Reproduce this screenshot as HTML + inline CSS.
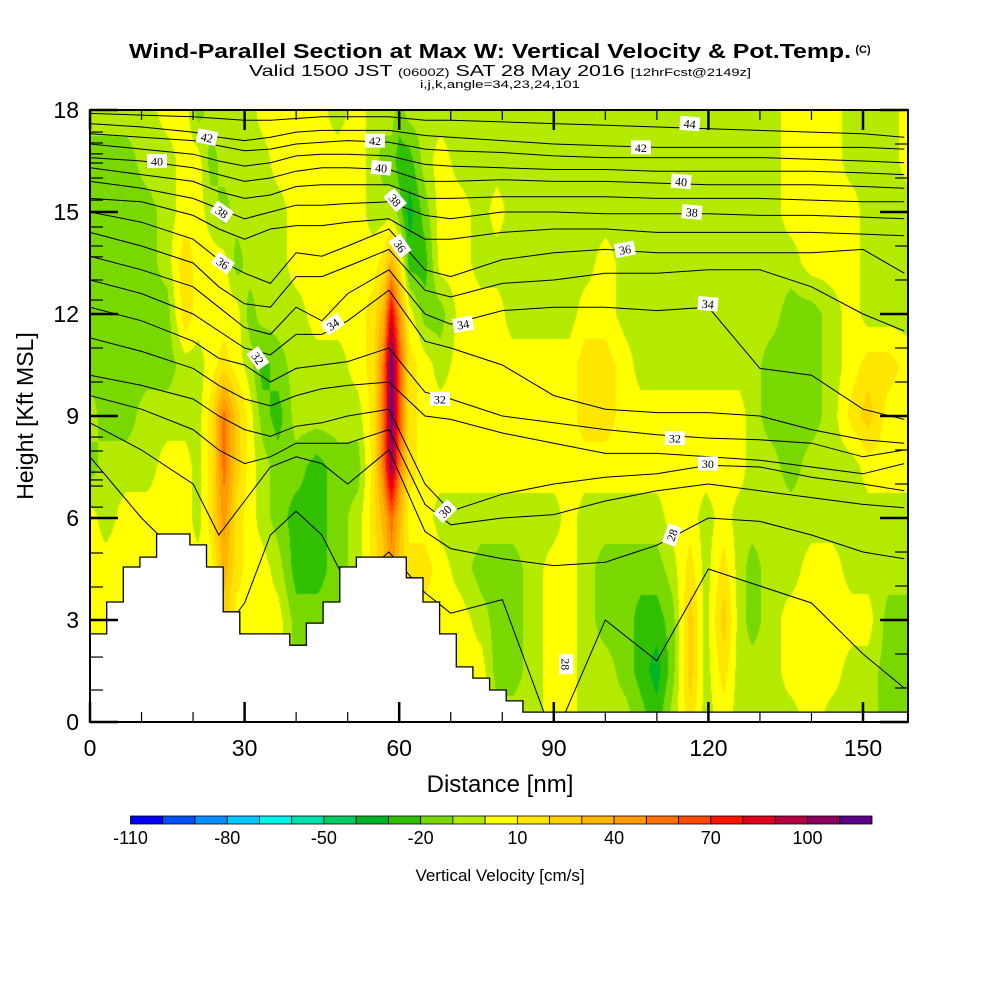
<!DOCTYPE html>
<html><head><meta charset="utf-8"><style>
html,body{margin:0;padding:0;background:#fff;}
#wrap{position:relative;width:1000px;height:1000px;overflow:hidden;font-family:"Liberation Sans",Arial,sans-serif;}
#field{position:absolute;left:90px;top:110px;}
#ov{position:absolute;left:0;top:0;}
</style></head><body>
<div id="wrap">
<canvas id="field" width="818" height="612"></canvas>
<svg id="ov" width="1000" height="1000" xmlns="http://www.w3.org/2000/svg">
<text x="490" y="58" text-anchor="middle" font-size="20" font-weight="bold" textLength="722" lengthAdjust="spacingAndGlyphs">Wind-Parallel Section at Max W: Vertical Velocity &amp; Pot.Temp.</text>
<text x="863" y="53" text-anchor="middle" font-size="11" font-weight="bold">(C)</text>
<text x="500" y="76" text-anchor="middle" font-size="16" textLength="502" lengthAdjust="spacingAndGlyphs">Valid 1500 JST <tspan font-size="11">(0600Z)</tspan> SAT 28 May 2016 <tspan font-size="11">[12hrFcst@2149z]</tspan></text>
<text x="500" y="88" text-anchor="middle" font-size="11" textLength="160" lengthAdjust="spacingAndGlyphs">i,j,k,angle=34,23,24,101</text>
<g id="contours"></g>
<g id="terrain"></g>
<g id="clabels"></g>
<g id="axes"></g>
<g id="cbar"></g>
<text x="500" y="792" text-anchor="middle" font-size="24">Distance [nm]</text>
<text transform="translate(33,416) rotate(-90)" text-anchor="middle" font-size="23">Height [Kft MSL]</text>
<text x="500" y="881" text-anchor="middle" font-size="17">Vertical Velocity [cm/s]</text>
</svg>
</div>
<script>
// ---- data ----
const distNodes = [0,3,7,11,15,18.5,21,23.5,26,28.5,31,33.5,36.5,40,44,48,52,55,57,58.5,60,62,65,68,72,76,79,82,86,90,93,96,100,104,107,110,113,116.5,119.5,123,126,128.5,132,136,140,144,148,151,155,159];
const heightNodes = [18,16.5,15,13.5,12,10.5,9,7.5,6,4.5,3,1.5,0];
const wCols = [
[-5,-15,-15,-15,-15,-15,-5,-15,5,5,5,5,5],
[-5,-15,-15,-15,-15,-15,-15,-5,-5,5,5,5,5],
[-5,-15,-15,-15,-15,-15,-15,-5,5,5,5,5,5],
[-5,-5,-15,-15,-15,-15,-5,-5,5,5,5,5,5],
[5,-5,-5,-5,-15,-15,-5,5,5,5,5,5,5],
[5,5,5,18,18,-5,-5,5,5,5,5,5,5],
[-15,5,5,5,5,-5,-5,-5,-5,5,5,5,5],
[-5,-15,-5,5,5,5,15,15,15,5,5,5,5],
[-5,-5,-15,5,5,15,55,55,45,35,25,25,25],
[-5,-5,-5,-15,5,5,25,25,15,15,5,5,5],
[-5,-5,-5,-5,-15,-5,5,5,5,5,5,5,5],
[5,-5,-5,-5,-5,-25,-15,-5,-5,5,5,5,5],
[5,5,-5,-5,-5,-15,-25,-15,-15,-5,5,5,5],
[5,5,5,5,-5,-5,-5,-15,-25,-25,-15,-15,-15],
[5,5,5,5,5,-5,-5,-25,-25,-25,-15,-15,-15],
[-5,5,5,5,5,-5,-5,-15,-15,-15,-15,-15,-15],
[5,5,5,5,5,5,-5,-15,-5,-5,-5,-5,-5],
[-5,-5,-5,5,15,15,15,15,15,15,15,15,15],
[-5,-15,-5,15,35,55,55,55,35,25,25,25,25],
[-5,-15,-5,35,85,115,115,105,55,45,45,45,45],
[-15,-25,-15,15,45,65,65,55,35,25,25,25,25],
[-5,-25,-35,-25,5,15,15,15,5,15,15,15,15],
[-5,-5,-15,-25,-15,5,5,5,5,15,5,5,5],
[-5,5,5,5,-15,-5,5,5,-5,5,5,5,5],
[-5,-5,5,5,5,5,5,5,-5,-5,5,5,5],
[-5,-5,-5,-5,5,5,5,5,-5,-15,-5,5,5],
[-5,-5,5,-5,5,5,5,5,-5,-15,-15,-15,-5],
[-5,-5,-5,-5,-5,5,5,5,-5,-15,-15,-15,-5],
[-5,-5,-5,-5,-5,5,5,5,-5,-5,-5,-5,-5],
[-5,-5,-5,-5,-5,5,5,5,-5,5,5,5,5],
[-5,-5,-5,-5,-5,5,5,5,5,5,5,5,5],
[-5,-5,-5,-5,5,15,15,5,-5,-5,-5,-5,-5],
[-5,-5,-5,5,5,15,15,5,-5,-15,-15,-5,-5],
[-5,-5,-5,-5,-5,5,5,5,-5,-15,-15,-15,-5],
[-5,-5,-5,-5,-5,-5,5,5,-5,-15,-25,-25,-15],
[-5,-5,-5,-5,-5,-5,5,5,-5,-15,-25,-35,-25],
[-5,-5,-5,-5,-5,-5,5,5,5,-5,-15,-15,-5],
[-5,-5,-5,-5,-5,-5,5,5,5,15,25,25,15],
[-5,-5,-5,-5,-5,-5,5,5,-5,-5,-5,-5,-5],
[-5,-5,-5,-5,-5,-5,5,5,5,15,25,15,5],
[-5,-5,-5,-5,-5,-5,5,5,-5,-5,-5,-5,-5],
[-5,-5,-5,-5,-5,-5,-5,-5,-5,-15,-15,-5,-5],
[-5,-5,-5,-5,-5,-15,-15,-5,-5,-5,-5,-5,-5],
[5,5,5,-5,-15,-15,-15,-15,-5,-5,5,5,-5],
[5,5,5,5,-15,-15,-15,-5,-5,5,5,5,5],
[5,5,5,5,-5,-5,-5,-5,-5,5,5,5,-5],
[-5,-5,5,5,5,5,15,-5,-5,-5,5,-5,-5],
[-5,-5,-5,-5,-5,15,25,5,-5,-5,5,-5,-5],
[-5,-5,-5,-5,-5,15,5,5,-5,-5,-15,-15,-15],
[5,5,-5,-5,-5,5,5,5,-5,-5,-15,-15,-15]
];
const colorLevels = ["#0000ff","#0050ff","#0090ff","#00c8ff","#00f4e8","#00e0a8","#00cc64","#00b428","#30c000","#78d800","#b4ea00","#ffff00","#ffe600","#ffd000","#ffb400","#ff9a00","#ff7000","#ff4800","#ff1400","#e0001c","#b40040","#8c0060","#5c0088"];
const colorbarTicks = [-110,-80,-50,-20,10,40,70,100];
const thetaDist = [0,10,20,25,30,35,40,45,50,58,65,70,80,90,100,110,120,130,140,150,158];
const thetaLevels = [27,28,29,30,31,32,33,34,35,36,37,38,39,40,41,42,43,44];
const thetaHeights = [
[7.8,6.0,4.5,2.5,3.5,5.5,6.2,5.5,4.0,5.0,3.8,3.2,3.6,-0.5,3.0,1.8,4.5,4.0,3.5,2.0,1.0],
[8.8,8.0,7.0,5.5,6.5,7.5,7.8,7.6,7.0,8.0,5.6,5.1,4.8,4.6,4.7,5.2,6.0,5.9,5.5,5.0,4.8],
[9.6,9.2,8.6,8.0,7.6,7.8,8.2,8.2,8.2,8.6,6.4,5.8,6.0,6.1,6.5,6.8,7.0,6.8,6.6,6.4,6.3],
[10.2,9.9,9.5,9.0,8.6,8.4,8.7,8.8,9.0,9.2,7.0,6.2,6.7,7.0,7.2,7.3,7.55,7.5,7.2,7.0,6.8],
[11.3,10.9,10.4,9.9,9.5,9.3,9.6,9.8,9.9,10.0,9.0,8.9,8.5,8.2,7.9,7.9,7.8,7.7,7.5,7.3,7.6],
[12.2,11.8,11.2,10.7,10.5,10.0,10.4,10.5,10.6,11.0,9.7,9.5,9.0,8.8,8.6,8.45,8.35,8.3,8.2,7.8,8.0],
[13.0,12.6,12.0,11.5,11.0,10.8,11.4,11.4,11.8,12.7,11.2,11.0,10.5,9.6,9.2,9.1,9.1,9.0,8.6,8.3,8.2],
[13.7,13.3,12.8,12.2,11.6,11.4,12.2,11.8,12.6,13.3,12.0,11.7,12.1,12.2,12.2,12.1,12.2,10.4,10.2,9.2,8.9],
[14.4,14.0,13.5,12.8,12.3,12.2,13.1,13.1,13.4,13.9,12.7,12.5,12.9,13.0,13.2,13.2,13.3,13.3,12.8,12.0,11.5],
[15.0,14.7,14.2,13.6,13.2,12.9,13.8,13.7,14.0,14.5,13.3,13.1,13.6,13.8,13.9,13.8,13.8,13.8,13.8,13.9,13.2],
[15.4,15.3,14.9,14.5,14.2,14.5,14.6,14.6,14.7,14.8,14.2,14.2,14.4,14.5,14.5,14.4,14.4,14.4,14.4,14.35,14.3],
[15.9,15.7,15.4,15.1,14.8,15.0,15.2,15.2,15.25,15.3,14.9,14.8,15.0,15.0,14.95,14.95,14.95,14.9,14.9,14.85,14.8],
[16.3,16.1,15.9,15.6,15.4,15.5,15.75,15.8,15.8,15.8,15.4,15.4,15.45,15.45,15.45,15.4,15.4,15.4,15.35,15.3,15.3],
[16.6,16.5,16.3,16.1,15.9,16.0,16.2,16.3,16.3,16.25,15.9,15.9,15.95,15.9,15.9,15.85,15.8,15.8,15.8,15.75,15.7],
[17.0,16.85,16.7,16.5,16.35,16.45,16.65,16.7,16.7,16.65,16.4,16.35,16.3,16.25,16.25,16.2,16.2,16.2,16.2,16.15,16.1],
[17.3,17.2,17.1,16.95,16.8,16.85,17.0,17.05,17.1,17.05,16.85,16.8,16.75,16.65,16.6,16.6,16.6,16.6,16.55,16.5,16.45],
[17.6,17.5,17.35,17.2,17.1,17.2,17.35,17.4,17.4,17.4,17.25,17.2,17.1,17.0,16.95,16.9,16.9,16.9,16.9,16.9,16.85],
[17.9,17.85,17.8,17.75,17.7,17.7,17.75,17.8,17.8,17.8,17.7,17.7,17.65,17.6,17.55,17.5,17.45,17.4,17.35,17.3,17.2]
];
const labelText = ["42","40","38","36","34","32","42","40","38","36","34","32","30","44","42","40","38","36","34","32","30","28","28"];
const labelDist = [22.7,13.0,25.6,25.8,47.1,32.6,55.3,56.5,59.2,60.2,72.4,67.9,68.9,116.4,106.9,114.7,116.8,103.8,119.9,113.5,119.9,112.9,92.4];
const labelHeight = [17.2,16.5,15.0,13.5,11.7,10.7,17.1,16.3,15.35,14.0,11.7,9.5,6.2,17.6,16.9,15.9,15.0,13.9,12.3,8.35,7.6,5.5,1.7];
const labelAngle = [12,0,35,35,-35,55,0,5,50,55,-10,0,-45,5,0,5,5,-10,5,0,0,-70,90];
const terrainSteps = [2.59,3.53,4.56,4.85,5.53,5.53,5.21,4.56,3.24,2.59,2.59,2.59,2.26,2.91,3.53,4.56,4.85,4.85,4.85,4.24,3.53,2.59,1.62,1.29,0.94,0.62];
const terrainFloor = 0.29;
const modelLevelTicks = [17.35,17.03,16.71,16.44,16.0,15.35,14.56,14.0,13.68,13.0,12.41,11.0,10.0,8.38,7.97,7.35,7.12,6.94,6.32,4.97,3.97,1.91,0.94];
const xTicks = [0,30,60,90,120,150];
const yTicks = [0,3,6,9,12,15,18];

// ---- axes ----
const PX0=90, PX1=908, PY0=722, PY1=110;
const NM_PX = (863-90)/150, KFT_PX = (722-110)/18;
const sx = nm => PX0 + nm*NM_PX;
const sy = k => PY0 - k*KFT_PX;
const stepNm = 16.65/NM_PX;
const NS='http://www.w3.org/2000/svg';
function mk(tag, attrs, parent){const e=document.createElementNS(NS,tag);for(const k in attrs)e.setAttribute(k,attrs[k]);parent.appendChild(e);return e;}

// ---- field ----
(function(){
  const cv=document.getElementById('field'), ctx=cv.getContext('2d');
  const W=cv.width,H=cv.height, img=ctx.createImageData(W,H);
  const rgb=colorLevels.map(c=>[parseInt(c.substr(1,2),16),parseInt(c.substr(3,2),16),parseInt(c.substr(5,2),16)]);
  for(let px=0;px<W;px++){
    const nm=(px+0.5)/NM_PX;
    let i=0; while(i<distNodes.length-2 && nm>distNodes[i+1]) i++;
    let tx=(nm-distNodes[i])/(distNodes[i+1]-distNodes[i]); tx=Math.max(0,Math.min(1,tx));
    for(let py=0;py<H;py++){
      const k=18-(py+0.5)/KFT_PX;
      let r=(18-k)/1.5; let j=Math.min(heightNodes.length-2,Math.max(0,Math.floor(r))); let ty=Math.max(0,Math.min(1,r-j));
      const a=wCols[i][j],b=wCols[i+1][j],c=wCols[i][j+1],d=wCols[i+1][j+1];
      const v=(a*(1-tx)+b*tx)*(1-ty)+(c*(1-tx)+d*tx)*ty;
      let bin=Math.floor((v+110)/10); bin=Math.max(0,Math.min(22,bin));
      const o=(py*W+px)*4, col=rgb[bin];
      img.data[o]=col[0];img.data[o+1]=col[1];img.data[o+2]=col[2];img.data[o+3]=255;
    }
  }
  ctx.putImageData(img,0,0);
})();

// ---- contours ----
const svg=document.getElementById('ov');
const defs=mk('defs',{},svg);
const cp=mk('clipPath',{id:'plotclip'},defs);
mk('rect',{x:PX0,y:PY1,width:PX1-PX0,height:PY0-PY1},cp);
const cg=document.getElementById('contours');
cg.setAttribute('clip-path','url(#plotclip)');
thetaLevels.forEach((lev,li)=>{
  const pts=thetaDist.map((d,i)=>sx(d).toFixed(1)+','+sy(thetaHeights[li][i]).toFixed(1)).join(' ');
  const pl=mk('polyline',{points:pts,fill:'none',stroke:'#000','stroke-width':'1'},cg);
  
  
});

// ---- terrain ----
(function(){
  const tg=document.getElementById('terrain');
  let d='M'+PX0+','+PY0+' L'+PX0+','+sy(terrainSteps[0]).toFixed(1);
  terrainSteps.forEach((h,i)=>{
    const x0=sx(i*stepNm), x1=sx((i+1)*stepNm);
    d+=' L'+x0.toFixed(1)+','+sy(h).toFixed(1)+' L'+x1.toFixed(1)+','+sy(h).toFixed(1);
  });
  const xe=sx(terrainSteps.length*stepNm);
  d+=' L'+xe.toFixed(1)+','+sy(terrainFloor).toFixed(1)+' L'+PX1+','+sy(terrainFloor).toFixed(1)+' L'+PX1+','+PY0+' Z';
  const p=mk('path',{d:d,fill:'#fff',stroke:'#000','stroke-width':'1.3'},tg);
  
  
})();

// ---- contour labels ----
(function(){
  const lg=document.getElementById('clabels');
  labelText.forEach((t,i)=>{
    const g=mk('g',{transform:'translate('+sx(labelDist[i]).toFixed(1)+','+sy(labelHeight[i]).toFixed(1)+') rotate('+labelAngle[i]+')'},lg);
    
    
    mk('rect',{x:-10,y:-7,width:20,height:14,fill:'#fff'},g);
    const tx=mk('text',{x:0,y:4.5,'text-anchor':'middle','font-size':'12','font-family':'"Liberation Serif",serif'},g);
    tx.textContent=t;
  });
})();

// ---- axes ----
(function(){
  const ag=document.getElementById('axes');
  const fr=mk('rect',{x:PX0,y:PY1,width:PX1-PX0,height:PY0-PY1,fill:'none',stroke:'#000','stroke-width':'2'},ag);
  
  
  for(let nm=0;nm<=158;nm+=10){
    const major=nm%30===0, L=major?20:10, w=major?2.5:1.2;
    mk('line',{x1:sx(nm),y1:PY0,x2:sx(nm),y2:PY0-L,stroke:'#000','stroke-width':w},ag);
    mk('line',{x1:sx(nm),y1:PY1,x2:sx(nm),y2:PY1+L,stroke:'#000','stroke-width':w},ag);
  }
  modelLevelTicks.forEach(k=>mk('line',{x1:PX0,y1:sy(k),x2:PX0+13,y2:sy(k),stroke:'#000','stroke-width':1.2},ag));
  for(let k=1;k<18;k++){ if(k%3) mk('line',{x1:PX1,y1:sy(k),x2:PX1-13,y2:sy(k),stroke:'#000','stroke-width':1.2},ag); }
  yTicks.forEach(k=>{
    mk('line',{x1:PX0,y1:sy(k),x2:PX0+28,y2:sy(k),stroke:'#000','stroke-width':2.5},ag);
    mk('line',{x1:PX1,y1:sy(k),x2:PX1-28,y2:sy(k),stroke:'#000','stroke-width':2.5},ag);
    const t=mk('text',{x:79,y:sy(k)+8,'text-anchor':'end','font-size':'23'},ag);
    t.textContent=k;
    
    
  });
  xTicks.forEach(nm=>{
    const t=mk('text',{x:sx(nm),y:756,'text-anchor':'middle','font-size':'23'},ag);
    t.textContent=nm;
    
    
  });
})();

// ---- colorbar ----
(function(){
  const g=document.getElementById('cbar');
  const x0=130.5, x1=872, bw=(x1-x0)/colorLevels.length;
  colorLevels.forEach((c,i)=>{
    const r=mk('rect',{x:x0+i*bw,y:816,width:bw,height:8,fill:c,stroke:'#000','stroke-width':'0.8'},g);
    
    
  });
  colorbarTicks.forEach(v=>{
    const t=mk('text',{x:x0+(v+110)/10*bw,y:844,'text-anchor':'middle','font-size':'18'},g);
    t.textContent=v;
    
    
  });
})();
</script>
</body></html>
